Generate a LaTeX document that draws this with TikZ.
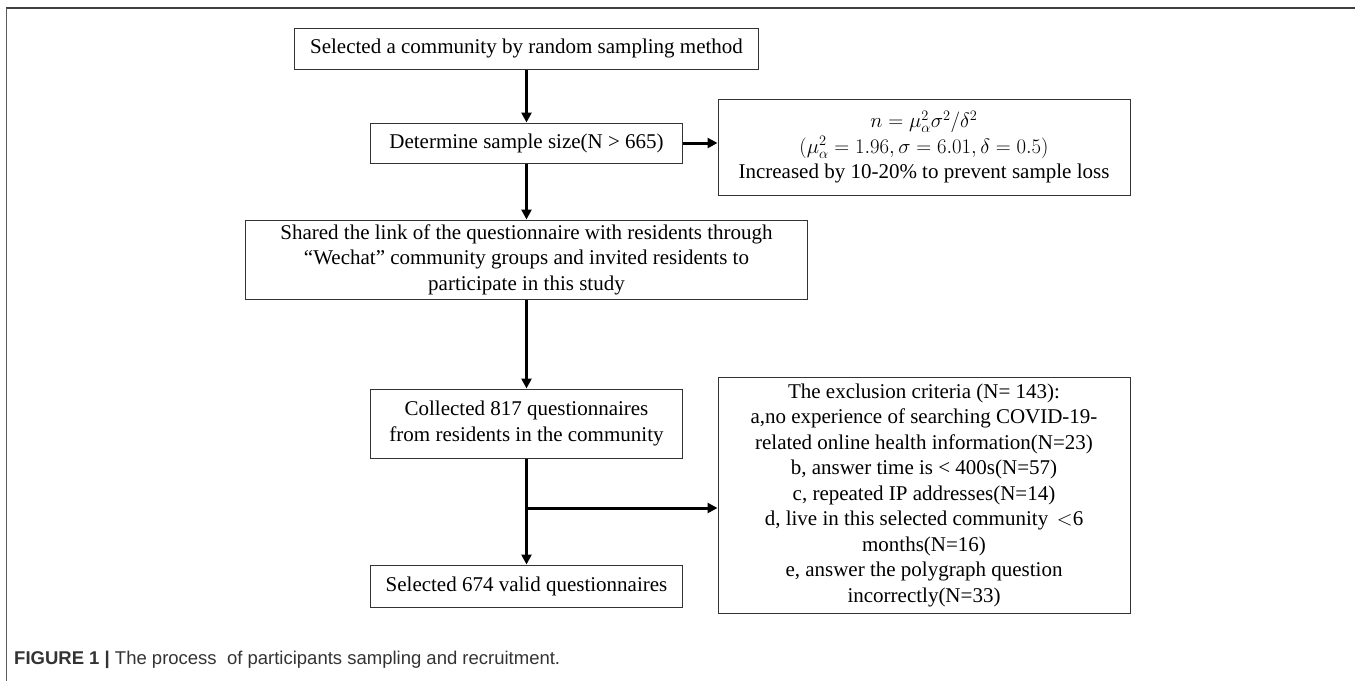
\documentclass[tikz,border=0pt]{standalone}
\usepackage{fontspec}
\setmainfont{Liberation Serif}
\newfontfamily\capfont{Liberation Sans}
\usetikzlibrary{arrows.meta}

\begin{document}
\begin{tikzpicture}[x=1pt,y=-1pt,
  box/.style={draw=black!80, line width=1pt, align=center, inner sep=0pt,
    font=\fontsize{21}{25.5}\selectfont},
  flow/.style={line width=3pt, -{Triangle[length=10pt,width=10pt]}}]
\useasboundingbox (0,0) rectangle (1355,681);
% frame of the figure
\draw[black!75, line width=1.8pt] (6,8) -- (1355,8);
\draw[black!65, line width=1pt] (6,8) -- (6,681);
% boxes of the flow
\node[box, minimum width=464pt, minimum height=41pt] (pick)    at (526.5,48.5) {Selected a community by random sampling method};
\node[box, minimum width=312pt, minimum height=40pt] (size)    at (526.5,143)  {Determine sample size(N > 665)};
\node[box, minimum width=412pt, minimum height=96pt] (formula) at (924,147)    {$n=\mu_\alpha^2\sigma^2/\delta^2$\\ $(\mu_\alpha^2=1.96,\sigma=6.01,\delta=0.5)$\\ Increased by 10-20\% to prevent sample loss};
\node[box, minimum width=562pt, minimum height=79pt] (share)   at (526.5,259.5) {Shared the link of the questionnaire with residents through\\ “Wechat” community groups and invited residents to\\ participate in this study};
\node[box, minimum width=312pt, minimum height=69pt] (collect) at (526.5,423.5) {Collected 817 questionnaires\\ from residents in the community};
\node[box, minimum width=312pt, minimum height=42pt] (valid)   at (526.5,586)  {Selected 674 valid questionnaires};
\node[box, minimum width=412pt, minimum height=236pt] (exclude) at (924,495)   {The exclusion criteria (N= 143):\\ a,no experience of searching COVID-19-\\ related online health information(N=23)\\ b, answer time is < 400s(N=57)\\ c, repeated IP addresses(N=14)\\ d, live in this selected community \,$<$6\\ months(N=16)\\ e, answer the polygraph question\\ incorrectly(N=33)};
% arrows
\draw[flow] (pick) -- (size);
\draw[flow] (size.east) -- (size.east -| formula.west);
\draw[flow] (size) -- (share);
\draw[flow] (share) -- (collect);
\draw[flow] (collect) -- (valid);
\coordinate (split) at (526.5,508);
\draw[flow] (split) -- (split -| exclude.west);
% caption
\node[anchor=west, inner sep=0pt, text=black!80, font=\capfont\fontsize{18.5}{22}\selectfont] (caption) at (14,660)
  {\textbf{FIGURE 1 |} The process~ of participants sampling and recruitment.};
\end{tikzpicture}
\end{document}
